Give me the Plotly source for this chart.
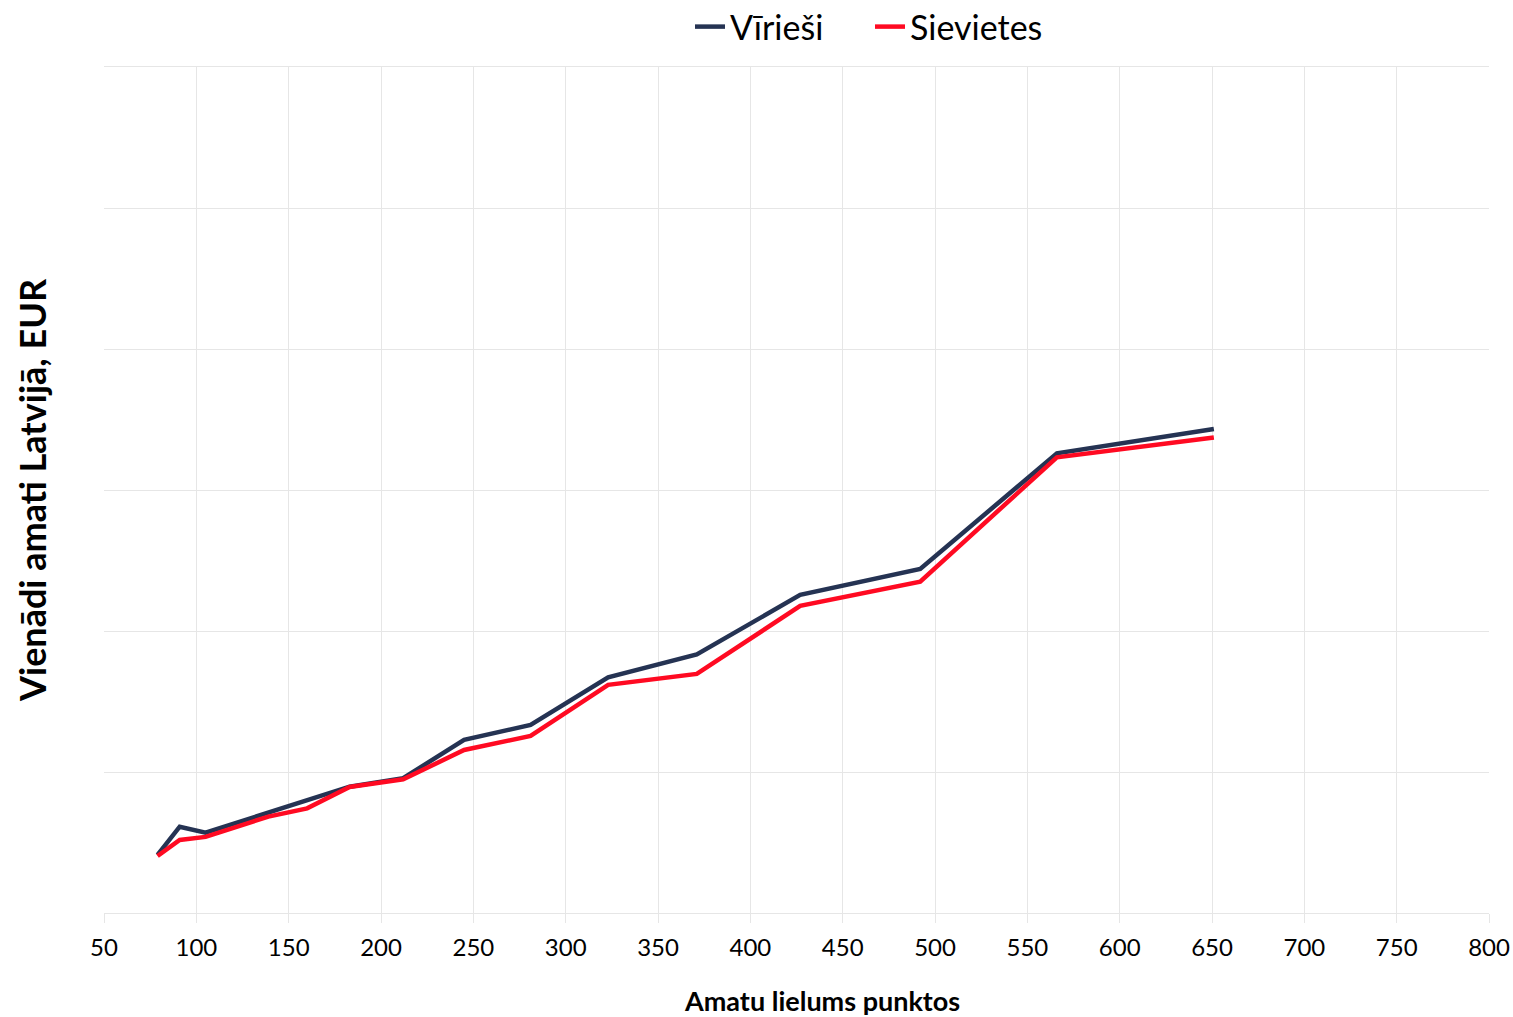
import plotly.graph_objects as go

# Job size in points (shared x positions of both series)
punkti = [79, 91, 105, 139, 160, 183, 212, 245, 281, 323, 371, 427, 492, 566, 651]

# Pay for equal positions in Latvia, EUR
virieši = [206, 306, 285, 355, 399, 448, 478, 614, 667, 836, 917, 1128, 1220, 1630, 1716]
sievietes = [202, 259, 270, 342, 371, 447, 474, 578, 628, 809, 848, 1089, 1175, 1616, 1686]

x_ticks = list(range(50, 801, 50))

FONT = "Lato"
GRID = "#e6e6e6"

W, H = 1513, 1017
L, R, T, B = 104, 24, 67, 104
PW, PH = W - L - R, H - T - B

fig = go.Figure()
fig.add_trace(go.Scatter(
    x=punkti, y=virieši, mode="lines", name="Vīrieši",
    line=dict(color="#253353", width=4.5),
))
fig.add_trace(go.Scatter(
    x=punkti, y=sievietes, mode="lines", name="Sievietes",
    line=dict(color="#ff0a22", width=4.5),
))

fig.update_layout(
    width=W, height=H,
    margin=dict(l=L, r=R, t=T, b=B, autoexpand=False),
    paper_bgcolor="white", plot_bgcolor="white",
    font=dict(family=FONT, color="black"),
    showlegend=True,
    legend=dict(
        orientation="h",
        xref="container", x=690 / W, xanchor="left",
        yref="container", y=1 - 27 / H, yanchor="middle",
        font=dict(size=34, family=FONT),
        entrywidth=135, traceorder="normal",
        bgcolor="rgba(0,0,0,0)",
    ),
    xaxis=dict(
        range=[50, 800], tickvals=x_ticks,
        showgrid=True, gridcolor=GRID, gridwidth=1,
        zeroline=False,
        showline=True, mirror=True, linecolor=GRID, linewidth=1,
        ticks="outside", ticklen=9, tickcolor=GRID,
        tickfont=dict(size=24, family=FONT),
        ticklabelstandoff=4,
        automargin=False,
    ),
    yaxis=dict(
        range=[0, 3000], dtick=500,
        showgrid=True, gridcolor=GRID, gridwidth=1,
        zeroline=False, showline=False,
        showticklabels=False,
        automargin=False,
    ),
    annotations=[
        dict(
            text="<b>Amatu lielums punktos</b>",
            xref="paper", yref="paper",
            x=(822 - L) / PW, y=-(1000 - (T + PH)) / PH,
            xanchor="center", yanchor="middle", showarrow=False,
            font=dict(size=27, family=FONT, color="black"),
        ),
        dict(
            text="<b>Vienādi amati Latvijā, EUR</b>",
            xref="paper", yref="paper",
            x=(32 - L) / PW, y=1 - (490 - T) / PH,
            xanchor="center", yanchor="middle", showarrow=False,
            textangle=-90,
            font=dict(size=36, family=FONT, color="black"),
        ),
    ],
)

fig.write_html("out.html")
